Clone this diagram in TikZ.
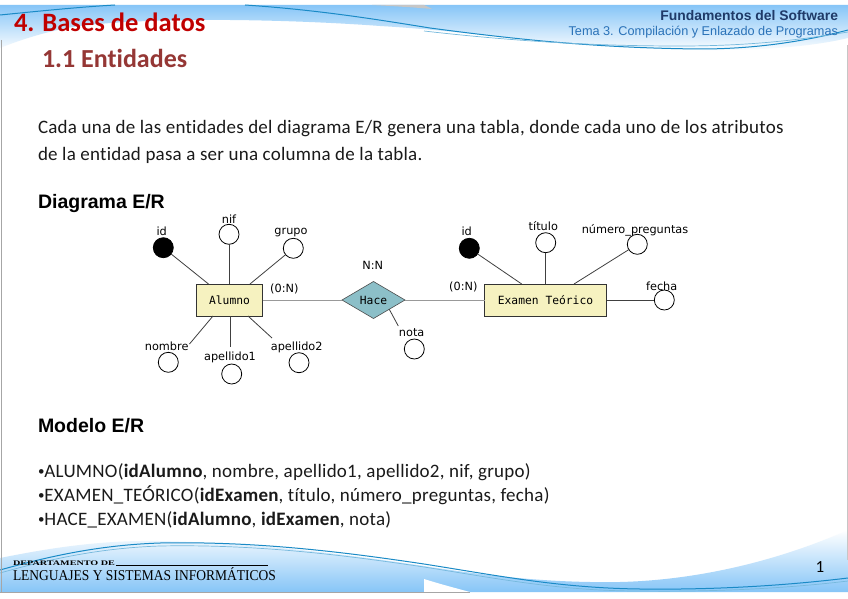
\documentclass[tikz,border=0pt]{standalone}
\usepackage{graphicx}
\usepackage{fontspec}
\setmainfont{Carlito}[Ligatures=NoCommon]
\newfontfamily\bodyf{Carlito}[Ligatures=NoCommon, LetterSpace=1.3]
\newfontfamily\arialf{Liberation Sans}
\newfontfamily\djv{DejaVu Sans}
\newfontfamily\djvmono{DejaVu Sans Mono}
\newfontfamily\timesf{Liberation Serif}
\usetikzlibrary{shapes.geometric,calc}
\definecolor{titlered}{HTML}{C00000}
\definecolor{subred}{HTML}{953735}
\definecolor{navy}{HTML}{1F3A68}
\definecolor{temablue}{HTML}{2A72B8}
\definecolor{skyblue}{HTML}{86C5F7}
\definecolor{waveline}{HTML}{1A8AC6}
\definecolor{entfill}{HTML}{F6F2C0}
\definecolor{relfill}{HTML}{8CBFC8}
\definecolor{txt}{HTML}{1A1A1A}
\newcommand{\smallbul}{{\fontsize{13}{14}\selectfont\raisebox{1.5pt}{•}}}
\begin{document}
\begin{tikzpicture}[x=1pt,y=-1pt,
 every node/.style={inner sep=0pt, outer sep=0pt},
 body/.style={anchor=base west, font=\bodyf\fontsize{19}{22}\selectfont, text=txt},
 heading/.style={anchor=base west, font=\arialf\bfseries\fontsize{19.5}{22}\selectfont, text=black},
 entity/.style={draw=black!80, fill=entfill, line width=0.9pt, minimum width=66pt, minimum height=32pt, font=\djvmono\fontsize{11.3}{13}\selectfont},
 rel/.style={diamond, draw=black!70, fill=relfill, line width=0.6pt, minimum width=63pt, minimum height=37pt, aspect=1.7, font=\djvmono\fontsize{11.3}{13}\selectfont},
 attr/.style={circle, draw=black, line width=0.8pt, fill=white, minimum size=20pt},
 keyattr/.style={attr, fill=black},
 lab/.style={anchor=base, font=\djv\fontsize{11.3}{13}\selectfont, text=black},
 conn/.style={draw=black!75, line width=0.8pt},
 relconn/.style={draw=black!40, line width=0.8pt},
 wline/.style={draw=waveline, line width=1pt},
]
\useasboundingbox (0,0) rectangle (848,599);
\fill[white] (0,0) rectangle (848,599);

% header wave
\shade[top color=skyblue, bottom color=white] (0,5) -- (848,5) -- (848,38) .. controls (790,52) and (700,52) .. (620,47) .. controls (520,40) and (450,30) .. (380,26) .. controls (300,20) and (160,16) .. (80,26) .. controls (50,30) and (20,40) .. (0,48) -- cycle;
\fill[gray!45] (372,5) -- (424,5) -- (432,9) .. controls (410,7) and (390,6) .. (372,5) -- cycle;
\draw[wline] (0,15) .. controls (40,11) and (80,7) .. (115,5);
\draw[wline] (245,5) .. controls (320,10) and (380,20) .. (430,28) .. controls (520,40) and (600,48) .. (700,49) .. controls (760,49) and (810,40) .. (848,30);
\draw[waveline!60, line width=0.7pt] (424,31) .. controls (520,42) and (600,46) .. (680,46) .. controls (760,46) and (810,38) .. (848,32);

% footer wave
\shade[top color=white, bottom color=skyblue] (0,558) .. controls (50,548) and (100,540) .. (160,541) .. controls (260,543) and (350,555) .. (424,566) .. controls (500,578) and (560,583) .. (620,582) .. controls (700,580) and (780,560) .. (848,530) -- (848,592) -- (0,592) -- cycle;
\fill[white] (424,579) .. controls (440,584) and (455,588) .. (470,592) -- (424,592) -- cycle;
\draw[wline] (0,570) .. controls (50,556) and (100,545) .. (160,543) .. controls (260,541) and (350,553) .. (424,564) .. controls (500,576) and (560,588) .. (640,589) .. controls (720,590) and (790,585) .. (848,578);
\draw[waveline!60, line width=0.7pt] (0,573) .. controls (50,559) and (100,548) .. (160,546) .. controls (260,544) and (350,556) .. (424,567) .. controls (500,579) and (560,591) .. (640,591) .. controls (720,592) and (790,588) .. (848,581);
\draw[gray!70, line width=1pt] (0,592) -- (470,592);
\draw[gray!70, line width=1pt] (1,40) -- (1,592);
\draw[gray!45, line width=1pt] (847.5,45) -- (847.5,560);

% header texts
\node[anchor=base west, font=\bfseries\fontsize{26.5}{28}\selectfont, text=titlered] (t1) at (14,32) {4. Bases de datos};
\node[anchor=base west, font=\bfseries\fontsize{26}{28}\selectfont, text=subred] (t2) at (42,68) {1.1 Entidades};
\node[anchor=base east, font=\arialf\bfseries\fontsize{13.9}{15}\selectfont, text=navy] (h1) at (838,21) {Fundamentos del Software};
\node[anchor=base east, font=\arialf\fontsize{12.7}{14}\selectfont, text=temablue] (h2) at (838,36) {Tema 3. Compilación y Enlazado de Programas};

% body
\node[body] (p1) at (38,134) {Cada una de las entidades del diagrama E/R genera una tabla, donde cada uno de los atributos};
\node[body] (p2) at (38,160) {de la entidad pasa a ser una columna de la tabla.};
\node[heading] (dg) at (38,208) {Diagrama E/R};
\node[heading] (me) at (38,432) {Modelo E/R};
\node[body] (b1) at (38,477) {\smallbul ALUMNO(\textbf{idAlumno}, nombre, apellido1, apellido2, nif, grupo)};
\node[body] (b2) at (38,501) {\smallbul EXAMEN\_TEÓRICO(\textbf{idExamen}, título, número\_preguntas, fecha)};
\node[body] (b3) at (38,525) {\smallbul HACE\_EXAMEN(\textbf{idAlumno}, \textbf{idExamen}, nota)};

% footer texts
\node[anchor=base west, font=\timesf\bfseries\fontsize{7}{8}\selectfont] (dep) at (13,565) {\scalebox{1.45}[1]{DEPARTAMENTO DE}};
\draw[line width=0.6pt] (dep.base east) ++(1,0) -- (268,565);
\node[anchor=base west, font=\timesf\fontsize{15}{16}\selectfont] (lsi) at (13,580) {\scalebox{0.9}[1]{LENGUAJES Y SISTEMAS INFORMÁTICOS}};
\node[anchor=base, font=\fontsize{17}{18}\selectfont] (pg) at (820,572) {1};

% ER diagram
\node[entity] (alumno) at (229.5,300) {Alumno};
\node[rel] (hace) at (373.5,300) {Hace};
\node[entity, minimum width=122pt] (examen) at (545.5,300) {Examen Teórico};

\node[keyattr] (aid) at (163.3,247.7) {};
\node[attr] (anif) at (229,234.3) {};
\node[attr] (agrupo) at (293.3,248.3) {};
\node[attr] (anombre) at (168.3,362.3) {};
\node[attr] (aap1) at (231.7,374) {};
\node[attr] (aap2) at (299,362.7) {};
\node[attr] (anota) at (414.3,349) {};
\node[keyattr] (eid) at (469.3,248.3) {};
\node[attr] (etit) at (545.7,242.7) {};
\node[attr] (enum) at (637.3,244.3) {};
\node[attr] (efecha) at (664.3,300) {};

\node[lab] (laid) at (161.7,235) {id};
\node[lab] (lanif) at (229,223) {nif};
\node[lab] (lagrupo) at (291,234.7) {grupo};
\node[lab] (lanombre) at (166.7,350) {nombre};
\node[lab] (laap1) at (230,360.5) {apellido1};
\node[lab] (laap2) at (296.7,350.7) {apellido2};
\node[lab] (lnota) at (411.7,336.7) {nota};
\node[lab] (lnn) at (372.7,269.5) {N:N};
\node[lab] (lc1) at (284.3,292.7) {(0:N)};
\node[lab] (lc2) at (463.3,290.7) {(0:N)};
\node[lab] (leid) at (466.7,235) {id};
\node[lab] (letit) at (543.3,230.7) {título};
\node[lab] (lenum) at (635,233.3) {número\_preguntas};
\node[lab] (lefecha) at (661.7,290) {fecha};

\coordinate (nombreEnd) at (189.5,344);
\coordinate (ap1End) at (230,347);
\coordinate (ap2End) at (272,338);
\coordinate (notaEnd) at (398.3,326);

\draw[relconn] (alumno.east) -- (hace.west);
\draw[relconn] (hace.east) -- (examen.west);

\draw[conn] (aid) -- ($(alumno.north west)+(12,0)$);
\draw[conn] (anif) -- (anif |- alumno.north);
\draw[conn] (agrupo) -- ($(alumno.north)+(20.5,0)$);
\draw[conn] ($(alumno.south)+(-16.5,0)$) -- (nombreEnd);
\draw[conn] (ap1End |- alumno.south) -- (ap1End);
\draw[conn] ($(alumno.south)+(18.5,0)$) -- (ap2End);
\draw[conn] ($(hace.south)!0.5!(hace.east)$) -- (notaEnd);

\draw[conn] (eid) -- ($(examen.north west)+(37.2,0)$);
\draw[conn] (etit) -- (etit |- examen.north);
\draw[conn] (enum) -- ($(examen.north)+(28.5,0)$);
\draw[conn] (examen.east) -- (efecha);
\end{tikzpicture}
\end{document}
